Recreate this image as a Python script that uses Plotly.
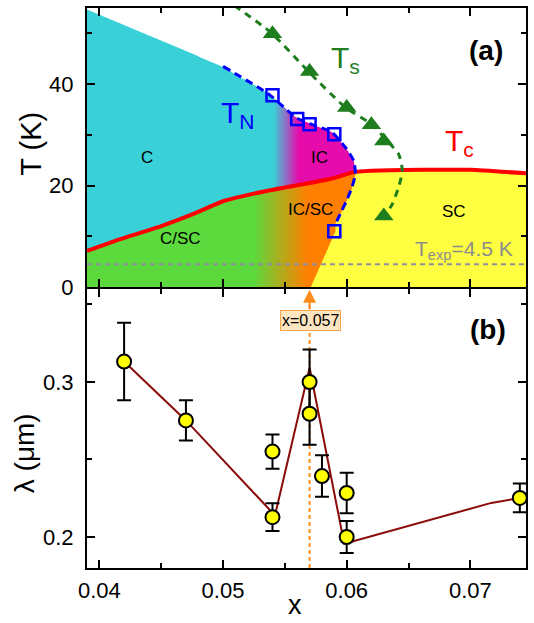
import numpy as np
import plotly.graph_objects as go

# ---------------- Panel (a): phase diagram ----------------
# T_N data (open squares)
tn_sq_x = [0.054, 0.056, 0.057, 0.059, 0.059]
tn_sq_T = [37.8, 33.1, 32.1, 30.1, 11.0]
# T_s data (triangles)
ts_tri_x = [0.054, 0.057, 0.060, 0.062, 0.063, 0.063]
ts_tri_T = [49.9, 42.5, 35.4, 32.0, 28.8, 14.0]
# T_c line
tc_x = [0.039, 0.0415, 0.045, 0.0475, 0.050, 0.0525, 0.055, 0.057, 0.059, 0.0605, 0.062, 0.066, 0.070, 0.0745]
tc_T = [7.1, 9.3, 12.0, 14.3, 16.9, 18.4, 19.6, 20.5, 21.5, 22.6, 22.9, 23.1, 23.1, 22.4]
# T_N guide line (upper branch, nose, lower branch)
tn_x = [0.0500, 0.0537, 0.0559, 0.0570, 0.0588, 0.0599, 0.06056, 0.0607, 0.06043, 0.0600, 0.0595, 0.0591]
tn_T = [43.5, 38.0, 33.4, 32.2, 30.5, 27.5, 24.9, 22.3, 19.7, 17.1, 14.5, 12.5]
# T_s guide line
ts_x = [0.0509, 0.0539, 0.0569, 0.0599, 0.0622, 0.0630, 0.0642, 0.0645, 0.0642, 0.0637, 0.0633]
ts_T = [55.5, 50.1, 42.5, 35.4, 31.8, 29.5, 26.2, 22.9, 19.7, 16.4, 14.8]
# edge of C region (left of T_N line)
c_top_x = [0.039, 0.050]
c_top_T = [54.7, 43.5]
# IC/SC - SC boundary below the last square
sc_b_x = [0.0571, 0.0591]
sc_b_T = [0.0, 11.0]
T_exp = 4.5

# ---------------- Panel (b): penetration depth ----------------
lam_x = [0.042, 0.047, 0.054, 0.054, 0.057, 0.057, 0.058, 0.060, 0.060, 0.074]
lam = [0.3132, 0.2752, 0.2551, 0.2128, 0.3000, 0.2795, 0.2393, 0.2284, 0.2000, 0.2252]
lam_err = [0.025, 0.013, 0.011, 0.009, 0.021, 0.020, 0.0134, 0.013, 0.0103, 0.0093]
fit_x = [0.042, 0.047, 0.0542, 0.0570, 0.0598, 0.0717, 0.074]
fit_lam = [0.3132, 0.2752, 0.2139, 0.3092, 0.1957, 0.2220, 0.2252]
x_mark = 0.057

X_RANGE = [0.039, 0.0745]
T_RANGE = [0, 55]
L_RANGE = [0.18, 0.36]

FONT = "Liberation Sans, Arial, sans-serif"
CYAN = np.array([58, 208, 216])
MAGENTA = np.array([230, 12, 172])
GREEN = np.array([92, 217, 60])
ORANGE = np.array([255, 128, 0])
YELLOW = np.array([255, 255, 66])
WHITE = np.array([255, 255, 255])
GREENDK = "#1E7E1E"

# ---- build colored phase regions from the boundaries ----
NX, NY, SS = 441, 281, 2
xs = X_RANGE[0] + (np.arange(NX * SS) + 0.5) * (X_RANGE[1] - X_RANGE[0]) / (NX * SS)
Ts = T_RANGE[0] + (np.arange(NY * SS) + 0.5) * (T_RANGE[1] - T_RANGE[0]) / (NY * SS)
X, T = np.meshgrid(xs, Ts)
nose = int(np.argmax(tn_x))
up_x = c_top_x + tn_x[1:nose + 1]
up_T = c_top_T + tn_T[1:nose + 1]
U = np.interp(xs, up_x, up_T, right=-1e9)[None, :]
TC = np.interp(xs, tc_x, tc_T)[None, :]
b_T = sc_b_T + tn_T[nose:][::-1]
b_x = sc_b_x + tn_x[nose:][::-1]
B = np.interp(Ts, b_T, b_x)[:, None]

img = np.ones(X.shape + (3,)) * WHITE
t1 = np.clip((X - 0.0541) / (0.0561 - 0.0541), 0, 1)[..., None]
c_up = CYAN * (1 - t1) + MAGENTA * t1
t2 = np.clip((X - 0.0525) / (0.0568 - 0.0525), 0, 1)[..., None]
c_lo = GREEN * (1 - t2) + ORANGE * t2
above = (T > TC) & (T < U)
below = T <= TC
left = X < B
img[above] = c_up[above]
m = below & left
img[m] = c_lo[m]
m = below & ~left
img[m] = YELLOW
img = img.reshape(NY, SS, NX, SS, 3).mean(axis=(1, 3))
img = np.round(img).astype(int).tolist()

dx = (X_RANGE[1] - X_RANGE[0]) / NX
dy = (T_RANGE[1] - T_RANGE[0]) / NY

fig = go.Figure()
fig.add_trace(go.Image(z=img, colormodel="rgb", x0=X_RANGE[0] + dx / 2, dx=dx,
                       y0=T_RANGE[0] + dy / 2, dy=dy, xaxis="x", yaxis="y", hoverinfo="skip"))
fig.add_trace(go.Scatter(x=X_RANGE, y=[T_exp, T_exp], mode="lines",
                         line=dict(color="#8E8EA0", width=2, dash="5px,4px"), xaxis="x", yaxis="y"))
fig.add_trace(go.Scatter(x=tc_x, y=tc_T, mode="lines",
                         line=dict(color="#FF0000", width=4, shape="spline", smoothing=0.5), xaxis="x", yaxis="y"))
fig.add_trace(go.Scatter(x=tn_x, y=tn_T, mode="lines",
                         line=dict(color="#0000FF", width=3, dash="8px,5px", shape="spline", smoothing=0.6),
                         xaxis="x", yaxis="y"))
fig.add_trace(go.Scatter(x=ts_x, y=ts_T, mode="lines",
                         line=dict(color=GREENDK, width=3, dash="7px,6px", shape="spline", smoothing=0.6),
                         xaxis="x", yaxis="y"))
fig.add_trace(go.Scatter(x=tn_sq_x, y=tn_sq_T, mode="markers",
                         marker=dict(symbol="square-open", size=12, color="#0000FF", line=dict(width=2.5, color="#0000FF")),
                         xaxis="x", yaxis="y"))
fig.add_trace(go.Scatter(x=ts_tri_x, y=ts_tri_T, mode="markers",
                         marker=dict(symbol="triangle-up", size=17, color=GREENDK, line=dict(width=0)),
                         xaxis="x", yaxis="y"))

# panel (b)
fig.add_trace(go.Scatter(x=[x_mark, x_mark], y=[L_RANGE[0], 0.352], mode="lines",
                         line=dict(color="#FF8C1A", width=2, dash="4px,3px"), xaxis="x2", yaxis="y2"))
fig.add_trace(go.Scatter(x=fit_x, y=fit_lam, mode="lines",
                         line=dict(color="#8B0A0A", width=2), xaxis="x2", yaxis="y2"))
fig.add_trace(go.Scatter(x=lam_x, y=lam, mode="markers",
                         marker=dict(symbol="circle", size=14, color="#FFFF00", line=dict(width=2, color="black")),
                         error_y=dict(type="data", array=lam_err, visible=True, color="black", thickness=2, width=7),
                         xaxis="x2", yaxis="y2"))

axis_common = dict(showline=True, linewidth=2, linecolor="black", mirror="ticks", ticks="inside",
                   ticklen=8, tickwidth=2, tickcolor="black", showgrid=False, zeroline=False,
                   tickfont=dict(family=FONT, size=22, color="black"))

gap = 1.0 / 562
fig.update_layout(
    width=534, height=623,
    margin=dict(l=87, r=6, t=6, b=55),
    paper_bgcolor="white", plot_bgcolor="white",
    showlegend=False,
    xaxis=dict(domain=[0, 1], anchor="y", range=X_RANGE, autorange=False, tick0=0.04, dtick=0.01,
               showticklabels=False,
               minor=dict(ticks="inside", ticklen=5, tickwidth=2, tickcolor="black", dtick=0.005, tick0=0.04),
               **axis_common),
    yaxis=dict(domain=[0.5 + gap, 1], anchor="x", range=T_RANGE, autorange=False, tick0=0, dtick=20,
               scaleanchor=False, ticklabelstandoff=7,
               minor=dict(ticks="inside", ticklen=5, tickwidth=2, tickcolor="black", dtick=10, tick0=0),
               **axis_common),
    xaxis2=dict(domain=[0, 1], anchor="y2", range=X_RANGE, autorange=False, tick0=0.04, dtick=0.01,
                ticklabelstandoff=2,
                minor=dict(ticks="inside", ticklen=5, tickwidth=2, tickcolor="black", dtick=0.005, tick0=0.04),
                **axis_common),
    yaxis2=dict(domain=[0, 0.5 - gap], anchor="x2", range=L_RANGE, autorange=False, tick0=0.2, dtick=0.1,
                ticklabelstandoff=7,
                minor=dict(ticks="inside", ticklen=5, tickwidth=2, tickcolor="black", dtick=0.05, tick0=0.2),
                **axis_common),
)

def ann(text, x, y, size, color="black", xref="x", yref="y", xanchor="center", yanchor="middle", **kw):
    fig.add_annotation(text=text, x=x, y=y, xref=xref, yref=yref, showarrow=False,
                       xanchor=xanchor, yanchor=yanchor,
                       font=dict(family=FONT, size=size, color=color), **kw)

# panel (a) labels
ann("<b>(a)</b>", 0.07129, 46.7, 28)
ann("C", 0.04387, 25.5, 17)
ann("IC", 0.05782, 25.5, 17)
ann("IC/SC", 0.05707, 15.3, 17)
ann("C/SC", 0.04659, 9.5, 17)
ann("SC", 0.06869, 14.8, 17)
ann("T<sub>N</sub>", 0.04965, 34.0, 30, color="#0000FF", xanchor="left")
ann("T<sub>s</sub>", 0.05855, 44.9, 30, color=GREENDK, xanchor="left")
ann("T<sub>c</sub>", 0.06782, 28.4, 30, color="#FF0000", xanchor="left")
ann("T<sub>exp</sub>=4.5 K", 0.0654, 7.3, 21, color="#8C8C8C", xanchor="left")

# panel (b) labels
ann("<b>(b)</b>", 0.07145, 0.334, 28, xref="x2", yref="y2")
ann("x=0.057", 0.05704, 0.3396, 16, xref="x2", yref="y2",
    bgcolor="#FCE5C0", bordercolor="#F5A54A", borderwidth=1, borderpad=1)
fig.add_annotation(x=x_mark, y=0.3595, ax=x_mark, ay=0.346, xref="x2", yref="y2", axref="x2", ayref="y2",
                   showarrow=True, text="", arrowhead=2, arrowsize=1.3, arrowwidth=2, arrowcolor="#FF8C1A")

# axis titles
ann("T (K)", -0.1293, 0.758, 29, xref="paper", yref="paper", textangle=-90)
ann("λ (μm)", -0.1417, 0.2046, 28, xref="paper", yref="paper", textangle=-90)
ann("x", 0.474, -0.0658, 27, xref="paper", yref="paper")

fig.write_html("out.html")
